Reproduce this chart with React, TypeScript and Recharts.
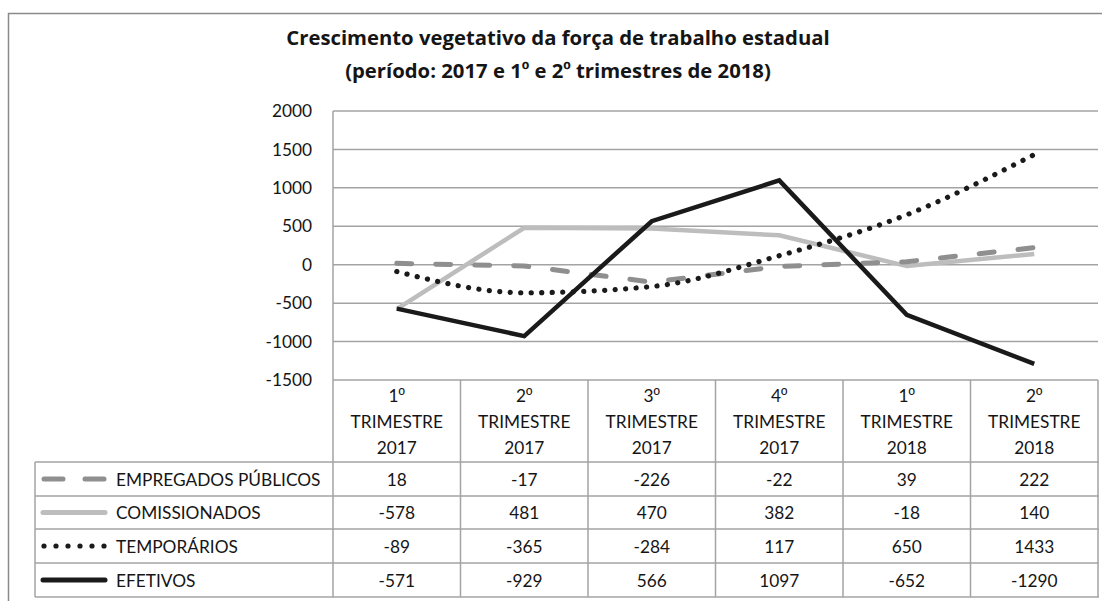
import { LineChart, Line, XAxis, YAxis, CartesianGrid } from "recharts";

const quarters = ["1º", "2º", "3º", "4º", "1º", "2º"];
const years = ["2017", "2017", "2017", "2017", "2018", "2018"];

const empregados = [18, -17, -226, -22, 39, 222];
const comissionados = [-578, 481, 470, 382, -18, 140];
const temporarios = [-89, -365, -284, 117, 650, 1433];
const efetivos = [-571, -929, 566, 1097, -652, -1290];

const yTicks = [-1500, -1000, -500, 0, 500, 1000, 1500, 2000];

const data = quarters.map((q, i) => ({
  label: q + " TRIMESTRE " + years[i],
  quarter: q,
  year: years[i],
  empregados: empregados[i],
  comissionados: comissionados[i],
  temporarios: temporarios[i],
  efetivos: efetivos[i],
}));

// rows of the data table, in the order shown
const rows = [
  { key: "empregados", name: "EMPREGADOS PÚBLICOS" },
  { key: "comissionados", name: "COMISSIONADOS" },
  { key: "temporarios", name: "TEMPORÁRIOS" },
  { key: "efetivos", name: "EFETIVOS" },
];

const W = 1102;
const H = 601;
const PLOT_LEFT = 333;
const PLOT_RIGHT = 1098;
const PLOT_TOP = 111;
const PLOT_BOTTOM = 380;
const COL_W = (PLOT_RIGHT - PLOT_LEFT) / quarters.length;
const TABLE_LEFT = 35;
const TABLE_RIGHT = 1099;
const ROW_LINES = [462, 496, 529, 563, 597];

const FONT = "Lato, 'Open Sans', sans-serif";
const TITLE_FONT = "'Open Sans', Lato, sans-serif";
const ORD_FONT = "'Liberation Sans', sans-serif";
const FS = 17.3;
const TEXT = "#151515";
const GRID = "#a3a3a3";

// the º sign drawn in a font that underlines it, as in the original
function withOrd(s: string) {
  const parts = s.split("º");
  return parts.map((p, i) => (
    <tspan key={i}>
      {p}
      {i < parts.length - 1 && <tspan fontFamily={ORD_FONT}>º</tspan>}
    </tspan>
  ));
}

function TableTick(props: any) {
  const { x, payload } = props;
  const i = payload.index;
  const d = data[i];
  const headerY = [395, 421, 447];
  return (
    <g>
      <line x1={x - COL_W / 2} x2={x - COL_W / 2} y1={PLOT_BOTTOM} y2={ROW_LINES[4]} stroke={GRID} strokeWidth={1.5} />
      {i === data.length - 1 && (
        <line x1={x + COL_W / 2} x2={x + COL_W / 2} y1={PLOT_BOTTOM} y2={ROW_LINES[4]} stroke={GRID} strokeWidth={1.5} />
      )}
      {[d.quarter, "TRIMESTRE", d.year].map((t, k) => (
        <text key={k} x={x} y={headerY[k]} textAnchor="middle" dominantBaseline="central" fontSize={FS} fill={TEXT} fontFamily={FONT}>
          {withOrd(t)}
        </text>
      ))}
      {rows.map((r, k) => (
        <text
          key={r.key}
          x={x}
          y={(ROW_LINES[k] + ROW_LINES[k + 1]) / 2}
          textAnchor="middle"
          dominantBaseline="central"
          fontSize={FS}
          fill={TEXT}
          fontFamily={FONT}
        >
          {(d as any)[r.key]}
        </text>
      ))}
    </g>
  );
}

function LegendKey({ k, y }: { k: string; y: number }) {
  if (k === "empregados")
    return (
      <g stroke="#8f8f8f" strokeWidth={5} strokeLinecap="round">
        <line x1={44} x2={63} y1={y} y2={y} />
        <line x1={85} x2={104} y1={y} y2={y} />
      </g>
    );
  if (k === "comissionados")
    return <line x1={43} x2={105} y1={y} y2={y} stroke="#bdbdbd" strokeWidth={5} strokeLinecap="round" />;
  if (k === "temporarios")
    return (
      <g fill="#1a1a1a">
        {[0, 1, 2, 3, 4, 5].map((n) => (
          <circle key={n} cx={44 + n * 12} cy={y} r={2.6} />
        ))}
      </g>
    );
  return <line x1={43} x2={105} y1={y} y2={y} stroke="#1a1a1a" strokeWidth={5} strokeLinecap="round" />;
}

export default function App() {
  return (
    <div style={{ position: "absolute", left: 0, top: 0, width: W, height: H, background: "#fff", fontFamily: FONT }}>
      <svg width={W} height={H} style={{ position: "absolute", left: 0, top: 0 }}>
        <rect x={8.5} y={13.5} width={W} height={H} fill="none" stroke="#8a8a8a" strokeWidth={1.5} />
        <text x={558} y={37} textAnchor="middle" dominantBaseline="central" fontSize={20.3} fontWeight={700} fill={TEXT} fontFamily={TITLE_FONT}>
          Crescimento vegetativo da força de trabalho estadual
        </text>
        <text x={558} y={70} textAnchor="middle" dominantBaseline="central" fontSize={20.3} fontWeight={700} fill={TEXT} fontFamily={TITLE_FONT}>
          {withOrd("(período: 2017 e 1º e 2º trimestres de 2018)")}
        </text>
        {ROW_LINES.map((y) => (
          <line key={y} x1={TABLE_LEFT} x2={TABLE_RIGHT} y1={y} y2={y} stroke={GRID} strokeWidth={1.5} />
        ))}
        <line x1={TABLE_LEFT} x2={TABLE_LEFT} y1={ROW_LINES[0]} y2={ROW_LINES[4]} stroke={GRID} strokeWidth={1.5} />
        {rows.map((r, k) => {
          const y = (ROW_LINES[k] + ROW_LINES[k + 1]) / 2;
          return (
            <g key={r.key}>
              <LegendKey k={r.key} y={y} />
              <text x={116} y={y} dominantBaseline="central" fontSize={FS} fill={TEXT} fontFamily={FONT}>
                {r.name}
              </text>
            </g>
          );
        })}
      </svg>
      <div style={{ position: "absolute", left: 0, top: 0 }}>
        <LineChart
          width={W}
          height={H}
          data={data}
          margin={{ top: PLOT_TOP, right: W - PLOT_RIGHT, bottom: 0, left: 0 }}
        >
          <CartesianGrid vertical={false} stroke={GRID} strokeWidth={1.5} />
          <XAxis
            dataKey="label"
            height={H - PLOT_BOTTOM}
            interval={0}
            axisLine={false}
            tickLine={false}
            tickSize={0}
            padding={{ left: COL_W / 2, right: COL_W / 2 }}
            tick={<TableTick />}
          />
          <YAxis
            width={PLOT_LEFT}
            domain={[-1500, 2000]}
            ticks={yTicks}
            interval={0}
            axisLine={{ stroke: GRID, strokeWidth: 1.5 }}
            tickLine={false}
            tickSize={0}
            tickMargin={21}
            tick={{ fontSize: FS, fill: TEXT, fontFamily: FONT }}
          />
          <Line
            dataKey="comissionados"
            type="linear"
            stroke="#bdbdbd"
            strokeWidth={4.5}
            dot={false}
            isAnimationActive={false}
          />
          <Line
            dataKey="empregados"
            type="linear"
            stroke="#8f8f8f"
            strokeWidth={5}
            strokeDasharray="15 24"
            strokeLinecap="round"
            dot={false}
            isAnimationActive={false}
          />
          <Line
            dataKey="temporarios"
            type="monotone"
            stroke="#1a1a1a"
            strokeWidth={5.2}
            strokeDasharray="0.1 10.4"
            strokeLinecap="round"
            dot={false}
            isAnimationActive={false}
          />
          <Line
            dataKey="efetivos"
            type="linear"
            stroke="#1a1a1a"
            strokeWidth={4.5}
            dot={false}
            isAnimationActive={false}
          />
        </LineChart>
      </div>
    </div>
  );
}
